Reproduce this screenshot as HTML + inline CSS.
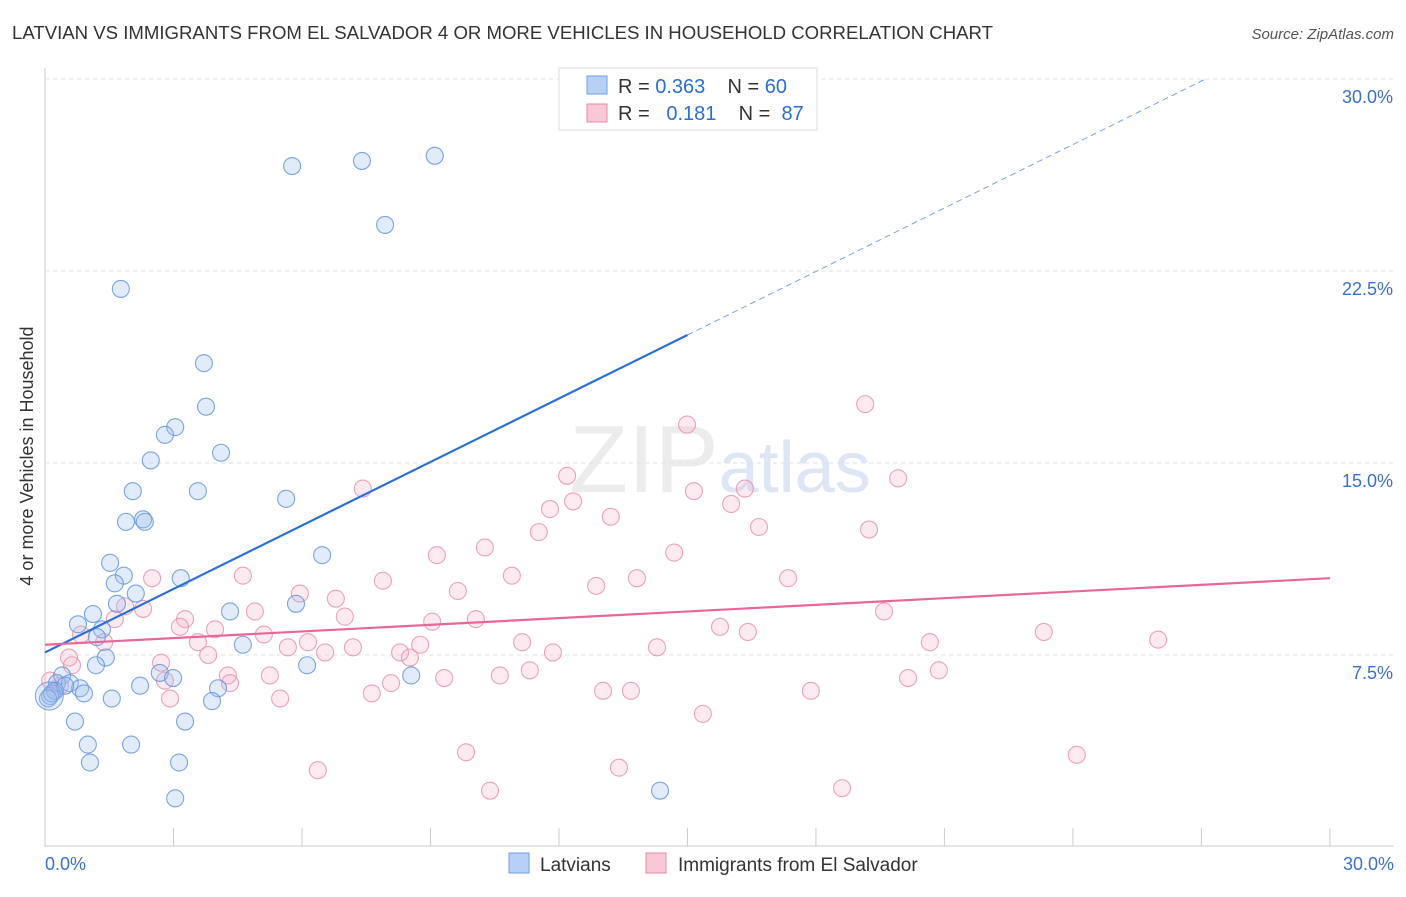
<!DOCTYPE html>
<html><head><meta charset="utf-8"><style>
body{margin:0;background:#fff;font-family:"Liberation Sans",sans-serif}
svg text{font-family:"Liberation Sans",sans-serif}
</style></head><body>
<svg id="c" width="1406" height="892">
<text x="12" y="39" font-size="18" fill="#333" textLength="981" lengthAdjust="spacingAndGlyphs">LATVIAN VS IMMIGRANTS FROM EL SALVADOR 4 OR MORE VEHICLES IN HOUSEHOLD CORRELATION CHART</text>
<text x="1394" y="39" font-size="15" fill="#555" font-style="italic" text-anchor="end">Source: ZipAtlas.com</text>
<text x="33" y="456" font-size="18" fill="#333" text-anchor="middle" transform="rotate(-90 33 456)">4 or more Vehicles in Household</text>
<text x="720" y="492" font-size="96" fill="#ececec" font-family="Liberation Serif" text-anchor="middle">ZIP<tspan fill="#dce6f4" font-family="Liberation Sans" font-size="72">atlas</tspan></text>
<g id="grid"></g><g id="marks"></g>
<g>
<rect x="559" y="68" width="258" height="62" fill="#fff" stroke="#ddd"/>
<rect x="587" y="76" width="20" height="18" fill="#b8d0f4" stroke="#6f9fe0"/>
<rect x="587" y="104" width="20" height="18" fill="#f8c8d6" stroke="#e58aa8"/>
<text x="618" y="93" font-size="20" fill="#333" xml:space="preserve">R = <tspan fill="#2a6fd6">0.363</tspan>    N = <tspan fill="#2a6fd6">60</tspan></text>
<text x="618" y="120" font-size="20" fill="#333" xml:space="preserve">R =   <tspan fill="#2a6fd6">0.181</tspan>    N =  <tspan fill="#2a6fd6">87</tspan></text>
</g>
<g>
<rect x="509" y="853" width="20" height="20" fill="#b8d0f4" stroke="#6f9fe0"/>
<text x="540" y="871" font-size="19" fill="#333">Latvians</text>
<rect x="646" y="853" width="20" height="20" fill="#f8c8d6" stroke="#e58aa8"/>
<text x="678" y="871" font-size="19" fill="#333">Immigrants from El Salvador</text>
</g>
</svg>
<script>
const yTicks=[7.5,15,22.5,30];
const yTickLabels=["7.5%","15.0%","22.5%","30.0%"];
const xTickLabels=["0.0%","30.0%"];
const latX=[1.77,5.77,7.40,9.10,7.94,3.71,3.76,3.04,2.80,4.11,2.47,2.05,3.57,5.63,1.89,2.29,2.33,6.47,1.52,1.84,3.17,1.63,2.12,1.68,1.12,4.32,5.86,0.77,1.33,1.21,4.62,1.42,1.19,6.12,2.68,2.99,8.55,0.40,0.28,0.58,2.22,0.82,4.04,0.91,0.23,0.12,1.56,3.90,0.70,3.27,1.00,2.01,1.05,3.13,3.04,14.36,0.16,0.47,0.07];
const latY=[21.8,26.6,26.8,27.0,24.3,18.9,17.2,16.4,16.1,15.4,15.1,13.9,13.9,13.6,12.7,12.8,12.7,11.4,11.1,10.6,10.5,10.3,9.9,9.5,9.1,9.2,9.5,8.7,8.5,8.2,7.9,7.4,7.1,7.1,6.8,6.6,6.7,6.7,6.4,6.4,6.3,6.2,6.2,6.0,6.1,5.9,5.8,5.7,4.9,4.9,4.0,4.0,3.3,3.3,1.9,2.2,6.0,6.3,5.8];
const elsX=[19.15,14.99,19.92,12.19,7.42,12.33,15.15,16.34,11.79,16.02,13.21,16.67,19.24,11.53,10.27,9.15,14.69,10.90,13.82,17.35,7.89,12.87,9.64,2.50,4.62,5.95,6.79,1.87,2.29,4.90,3.27,7.00,9.04,10.06,19.59,1.63,3.15,3.97,5.11,15.76,16.41,23.32,25.99,20.66,11.14,0.84,1.38,3.57,6.14,5.67,7.19,6.54,8.76,8.29,8.52,11.86,14.29,3.81,0.56,2.71,11.32,20.87,20.15,4.27,5.25,9.32,10.62,2.80,4.32,8.08,7.63,13.03,13.68,17.88,2.92,5.49,15.36,9.83,24.09,13.40,6.37,10.39,18.61,0.23,0.35,0.12,0.63];
const elsY=[17.3,16.5,14.4,14.5,14.0,13.5,13.9,14.0,13.2,13.4,12.9,12.5,12.4,12.3,11.7,11.4,11.5,10.6,10.5,10.5,10.4,10.2,10.0,10.5,10.6,9.9,9.7,9.4,9.3,9.2,8.9,9.0,8.8,8.9,9.2,8.9,8.6,8.5,8.3,8.6,8.4,8.4,8.1,8.0,8.0,8.3,8.0,8.0,8.0,7.8,7.8,7.6,7.9,7.6,7.4,7.6,7.8,7.5,7.4,7.2,6.9,6.9,6.6,6.7,6.7,6.6,6.7,6.5,6.4,6.4,6.0,6.1,6.1,6.1,5.8,5.8,5.2,3.7,3.6,3.1,3.0,2.2,2.3,6.1,6.3,6.5,7.1];
const latLine=[0,7.6,15,20.0];
const elsLine=[0,7.9,30,10.5];
const X=v=>45+v*42.83, Y=v=>847-v*25.6;
const ns="http://www.w3.org/2000/svg";
function mk(tag,attrs,parent){const e=document.createElementNS(ns,tag);for(const k in attrs)e.setAttribute(k,attrs[k]);document.getElementById(parent).appendChild(e);return e;}
let ax=mk('line',{x1:45,y1:68,x2:45,y2:847,stroke:'#ccc'},'grid');


let bx=mk('line',{x1:45,y1:846,x2:1394,y2:846,stroke:'#ccc'},'grid');


yTicks.forEach((t,i)=>{
 let g=mk('line',{x1:45,y1:Y(t),x2:1394,y2:Y(t),stroke:'#e2e2e2','stroke-dasharray':'4 4'},'grid');
 
 
 let tx=mk('text',{x:1393,y:Y(t)+24,'font-size':18,fill:'#3a70d0','text-anchor':'end'},'grid');
 tx.textContent=yTickLabels[i];
 
 
});
for(let i=1;i<=10;i++){let t=mk('line',{x1:X(i*3),y1:828,x2:X(i*3),y2:846,stroke:'#ccc'},'grid');
 
 }
[[45,'start',0],[1394,'end',1]].forEach(([x,a,i])=>{let t=mk('text',{x:x,y:870,'font-size':18,fill:'#3a70d0','text-anchor':a},'grid');t.textContent=xTickLabels[i];
 
 });
elsX.forEach((x,i)=>{let c=mk('circle',{cx:X(x),cy:Y(elsY[i]),r:8.5,fill:'rgba(245,170,195,0.25)',stroke:'rgba(230,140,170,0.8)','stroke-width':1.1},'marks');
 
 });
latX.forEach((x,i)=>{let c=mk('circle',{cx:X(x),cy:Y(latY[i]),r:8.5,fill:'rgba(160,190,240,0.3)',stroke:'rgba(100,150,220,0.85)','stroke-width':1.1},'marks');
 
 });
let big=mk('circle',{cx:X(0.1),cy:Y(5.9),r:14,fill:'rgba(160,190,240,0.3)',stroke:'rgba(100,150,220,0.85)'},'marks');


const s=(latLine[3]-latLine[1])/(latLine[2]-latLine[0]);
let l1=mk('line',{x1:X(latLine[0]),y1:Y(latLine[1]),x2:X(latLine[2]),y2:Y(latLine[3]),stroke:'#2a6fd6','stroke-width':2.2},'marks');


const xe=(30-latLine[1])/s;
let l1d=mk('line',{x1:X(latLine[2]),y1:Y(latLine[3]),x2:X(xe),y2:Y(30),stroke:'#7aa3e0','stroke-width':1,'stroke-dasharray':'6 4'},'marks');


let l2=mk('line',{x1:X(elsLine[0]),y1:Y(elsLine[1]),x2:X(elsLine[2]),y2:Y(elsLine[3]),stroke:'#e8679a','stroke-width':2.2},'marks');


</script>
</body></html>
